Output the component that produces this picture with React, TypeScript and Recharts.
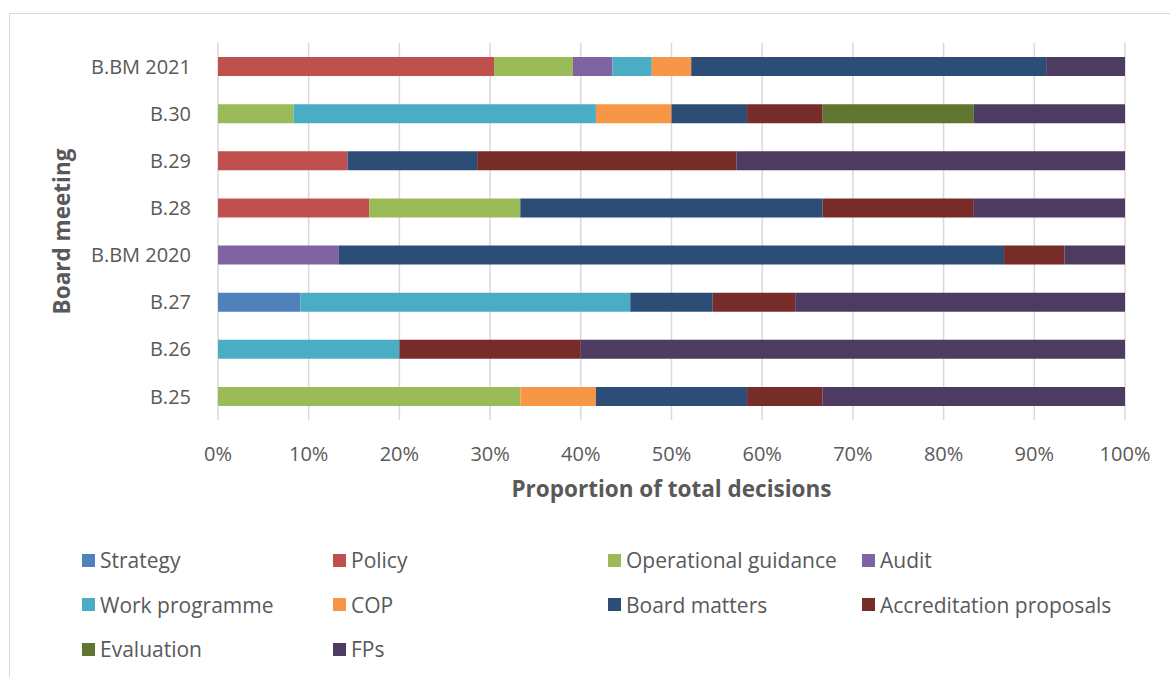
import React from 'react';
import { BarChart, Bar, XAxis, YAxis, CartesianGrid, Legend, Label } from 'recharts';

const categories = ['B.BM 2021', 'B.30', 'B.29', 'B.28', 'B.BM 2020', 'B.27', 'B.26', 'B.25'];

const seriesNames = [
  'Strategy',
  'Policy',
  'Operational guidance',
  'Audit',
  'Work programme',
  'COP',
  'Board matters',
  'Accreditation proposals',
  'Evaluation',
  'FPs',
];

const strategy = [0, 0, 0, 0, 0, 1, 0, 0];
const policy = [7, 0, 1, 1, 0, 0, 0, 0];
const operationalGuidance = [2, 1, 0, 1, 0, 0, 0, 4];
const audit = [1, 0, 0, 0, 2, 0, 0, 0];
const workProgramme = [1, 4, 0, 0, 0, 4, 1, 0];
const cop = [1, 1, 0, 0, 0, 0, 0, 1];
const boardMatters = [9, 1, 1, 2, 11, 1, 0, 2];
const accreditation = [0, 1, 2, 1, 1, 1, 1, 1];
const evaluation = [0, 2, 0, 0, 0, 0, 0, 0];
const fps = [2, 2, 3, 1, 1, 4, 3, 4];

const seriesValues = [
  strategy,
  policy,
  operationalGuidance,
  audit,
  workProgramme,
  cop,
  boardMatters,
  accreditation,
  evaluation,
  fps,
];

const colors = [
  '#4F81BD',
  '#C0504D',
  '#9BBB59',
  '#8064A2',
  '#4BACC6',
  '#F79646',
  '#2C4D75',
  '#772C2A',
  '#5F7530',
  '#4D3B62',
];

const xTicks = [0, 0.1, 0.2, 0.3, 0.4, 0.5, 0.6, 0.7, 0.8, 0.9, 1];

const data = categories.map((c, i) => {
  const row: Record<string, string | number> = { name: c };
  seriesNames.forEach((s, j) => {
    row[s] = seriesValues[j][i];
  });
  return row;
});

const FONT = '"Open Sans", Lato, sans-serif';
const TEXT = '#595959';

const legendColWidths = [251, 275, 254, 260];

const LegendContent = () => (
  <div
    style={{
      display: 'grid',
      gridTemplateColumns: legendColWidths.map((w) => `${w}px`).join(' '),
      rowGap: 0,
      fontFamily: FONT,
      fontSize: 21,
      color: TEXT,
    }}
  >
    {seriesNames.map((s, i) => (
      <div key={s} style={{ display: 'flex', alignItems: 'center', height: 44.5 }}>
        <span
          style={{
            display: 'inline-block',
            width: 13,
            height: 13,
            background: colors[i],
            marginRight: 5,
          }}
        />
        <span>{s}</span>
      </div>
    ))}
  </div>
);

const YTitle = (props: any) => {
  const vb = props.viewBox || { x: 0, y: 0, width: 0, height: 0 };
  const cx = vb.x + 61;
  const cy = vb.y + vb.height / 2;
  return (
    <text
      x={cx}
      y={cy}
      transform={`rotate(-90 ${cx} ${cy})`}
      textAnchor="middle"
      dominantBaseline="central"
      fontFamily={FONT}
      fontWeight={700}
      fontSize={22.5}
      fill={TEXT}
    >
      Board meeting
    </text>
  );
};

export default function App() {
  return (
    <div style={{ position: 'absolute', left: 0, top: 0, width: 1170, height: 677, background: '#fff' }}>
      <div
        style={{
          position: 'absolute',
          left: 9,
          top: 13,
          width: 1200,
          height: 700,
          borderLeft: '1.5px solid #D9D9D9',
          borderTop: '1.5px solid #D9D9D9',
        }}
      />
      <BarChart
        width={1170}
        height={677}
        data={data}
        layout="vertical"
        stackOffset="expand"
        barSize={19}
        margin={{ top: 43, right: 45, bottom: 227, left: 0 }}
        style={{ position: 'absolute', left: 0, top: 0 }}
      >
        <CartesianGrid horizontal={false} vertical={true} stroke="#D9D9D9" strokeWidth={1.5} />
        <XAxis
          type="number"
          domain={[0, 1]}
          ticks={xTicks}
          tickFormatter={(v: number) => `${Math.round(v * 100)}%`}
          axisLine={false}
          tickLine={false}
          tickSize={0}
          tickMargin={27}
          tick={{ fontFamily: FONT, fontSize: 20, fill: TEXT }}
          interval={0}
          height={30}
        >
          <Label
            value="Proportion of total decisions"
            position="bottom"
            offset={31}
            style={{ fontFamily: FONT, fontWeight: 700, fontSize: 22.5, fill: TEXT }}
          />
        </XAxis>
        <YAxis
          type="category"
          dataKey="name"
          width={218}
          axisLine={false}
          tickLine={false}
          tickSize={0}
          tickMargin={27}
          tick={{ fontFamily: FONT, fontSize: 20, fill: TEXT }}
          interval={0}
        >
          <Label content={<YTitle />} />
        </YAxis>
        {seriesNames.map((s, i) => (
          <Bar key={s} dataKey={s} stackId="a" fill={colors[i]} isAnimationActive={false} />
        ))}
        <Legend
          layout="horizontal"
          verticalAlign="middle"
          align="center"
          content={<LegendContent />}
          wrapperStyle={{ position: 'absolute', left: 82, top: 538, width: 1080 }}
        />
      </BarChart>
    </div>
  );
}
